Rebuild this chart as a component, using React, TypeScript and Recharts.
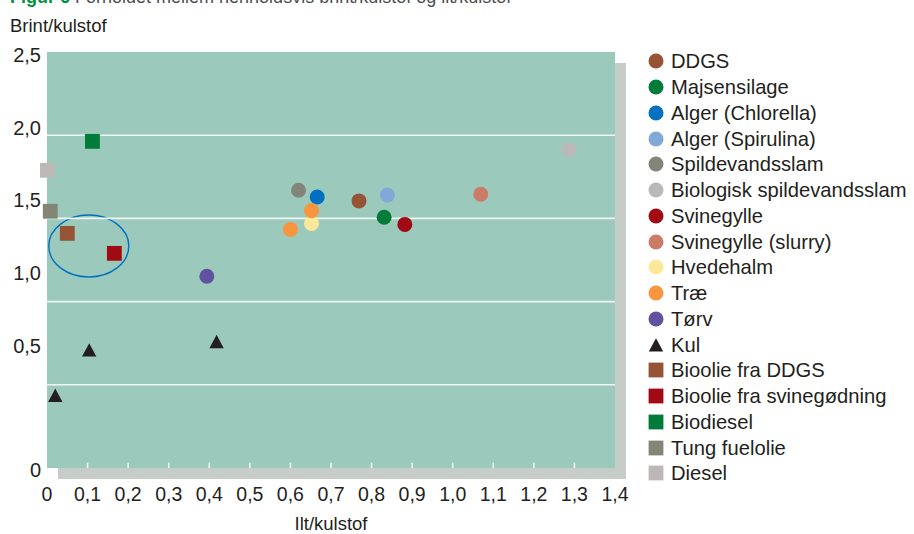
import React from 'react';
import {
  ScatterChart,
  Scatter,
  XAxis,
  YAxis,
  CartesianGrid,
  ReferenceLine,
  ReferenceArea,
  Customized,
} from 'recharts';

// ---------- data ----------
const xTicks = [0, 0.1, 0.2, 0.3, 0.4, 0.5, 0.6, 0.7, 0.8, 0.9, 1.0, 1.1, 1.2, 1.3, 1.4];
const yTicks = [0, 0.5, 1.0, 1.5, 2.0, 2.5];

const ddgs = [{ x: 0.769, y: 1.605 }];
const majsensilage = [{ x: 0.831, y: 1.507 }];
const algerChlorella = [{ x: 0.666, y: 1.629 }];
const algerSpirulina = [{ x: 0.839, y: 1.641 }];
const spildevandsslam = [{ x: 0.62, y: 1.669 }];
const biologiskSlam = [{ x: 1.286, y: 1.911 }];
const svinegylle = [{ x: 0.882, y: 1.464 }];
const svinegylleSlurry = [{ x: 1.069, y: 1.645 }];
const hvedehalm = [{ x: 0.652, y: 1.47 }];
const trae = [
  { x: 0.652, y: 1.547 },
  { x: 0.6, y: 1.434 },
];
const toerv = [{ x: 0.394, y: 1.152 }];
const kul = [
  { x: 0.104, y: 0.709 },
  { x: 0.418, y: 0.76 },
  { x: 0.0205, y: 0.437 },
];
const bioolieDdgs = [{ x: 0.05, y: 1.41 }];
const bioolieSvin = [{ x: 0.166, y: 1.29 }];
const biodiesel = [{ x: 0.112, y: 1.963 }];
const tungFuelolie = [{ x: 0.008, y: 1.543 }];
const diesel = [{ x: 0.001, y: 1.789 }];

const seriesNames = [
  'DDGS',
  'Majsensilage',
  'Alger (Chlorella)',
  'Alger (Spirulina)',
  'Spildevandsslam',
  'Biologisk spildevandsslam',
  'Svinegylle',
  'Svinegylle (slurry)',
  'Hvedehalm',
  'Træ',
  'Tørv',
  'Kul',
  'Bioolie fra DDGS',
  'Bioolie fra svinegødning',
  'Biodiesel',
  'Tung fuelolie',
  'Diesel',
];
const seriesData = [
  ddgs,
  majsensilage,
  algerChlorella,
  algerSpirulina,
  spildevandsslam,
  biologiskSlam,
  svinegylle,
  svinegylleSlurry,
  hvedehalm,
  trae,
  toerv,
  kul,
  bioolieDdgs,
  bioolieSvin,
  biodiesel,
  tungFuelolie,
  diesel,
];
const seriesColors = [
  '#965336',
  '#007b38',
  '#0070c0',
  '#80a8d9',
  '#84857a',
  '#bbb8b8',
  '#a10a12',
  '#cc7b66',
  '#fde89a',
  '#f7963f',
  '#6250a0',
  '#231f20',
  '#965336',
  '#a10a12',
  '#007b38',
  '#848575',
  '#bcb8b8',
];
const seriesShapes = [
  'circle', 'circle', 'circle', 'circle', 'circle', 'circle', 'circle', 'circle',
  'circle', 'circle', 'circle', 'triangle', 'square', 'square', 'square', 'square', 'square',
];

// ellipse highlighting the bio-oils (data-space bounds)
const ellipseBox = { x1: 0.0044, x2: 0.2016, y1: 1.148, y2: 1.52 };

// ---------- styling ----------
const FONT = '"Liberation Sans", Arial, Helvetica, sans-serif';
const TEXT = '#231f20';
const TEAL = '#9bcabd';
const SHADOW = '#c6ccc8';

const fmt = (v: number) => (v === 0 ? '0' : v.toFixed(1).replace('.', ','));

const Marker = ({ kind, color, cx, cy }: any) => {
  if (kind === 'circle') return <circle cx={cx} cy={cy} r={7.5} fill={color} />;
  if (kind === 'square')
    return <rect x={cx - 7.4} y={cy - 7.4} width={14.8} height={14.8} fill={color} />;
  return (
    <polygon
      points={`${cx},${cy - 6.8} ${cx + 7.2},${cy + 6.6} ${cx - 7.2},${cy + 6.6}`}
      fill={color}
    />
  );
};

const makeShape = (kind: string, color: string) => (props: any) => {
  const { cx, cy } = props;
  if (cx == null || cy == null) return <g />;
  return <Marker kind={kind} color={color} cx={cx} cy={cy} />;
};

const YTick = (props: any) => {
  const { x, y, payload } = props;
  const v = payload.value as number;
  const dy = v === 0 ? 2 : 3 - (2.5 - v) * 21;
  return (
    <text
      x={x}
      y={y + dy}
      textAnchor="end"
      dominantBaseline="central"
      fontSize={20}
      fontFamily={FONT}
      fill={TEXT}
    >
      {fmt(v)}
    </text>
  );
};

const XTick = (props: any) => {
  const { x, y, payload } = props;
  return (
    <text
      x={x}
      y={y}
      textAnchor="middle"
      dominantBaseline="central"
      fontSize={19.5}
      fontFamily={FONT}
      fill={TEXT}
    >
      {fmt(payload.value)}
    </text>
  );
};

const ShadowShape = (props: any) => {
  const { x, y, width, height } = props;
  const o = 11;
  return (
    <g>
      <rect x={x + width} y={y + o} width={o} height={height} fill={SHADOW} />
      <rect x={x + o} y={y + height} width={width} height={o} fill={SHADOW} />
    </g>
  );
};

const EllipseShape = (props: any) => {
  const { x, y, width, height } = props;
  return (
    <ellipse
      cx={x + width / 2}
      cy={y + height / 2}
      rx={width / 2}
      ry={height / 2}
      fill="none"
      stroke="#0070c0"
      strokeWidth={1.4}
    />
  );
};

const Titles = () => (
  <g fontFamily={FONT}>
    <text x={10} y={3} fontSize={18}>
      <tspan fill="#00913f" fontWeight="bold">Figur 6</tspan>
      <tspan fill="#4d4d4f"> Forholdet mellem henholdsvis brint/kulstof og ilt/kulstof</tspan>
    </text>
    <text x={10} y={31.5} fontSize={18.5} fill={TEXT}>
      Brint/kulstof
    </text>
  </g>
);

const LegendBlock = () => (
  <div
    style={{
      position: 'absolute',
      left: 647,
      top: 48.4,
      width: 267,
      fontFamily: FONT,
      fontSize: 20.2,
      color: TEXT,
    }}
  >
    {seriesNames.map((name, i) => (
      <div
        key={name}
        style={{ display: 'flex', alignItems: 'center', height: 25.75, whiteSpace: 'nowrap' }}
      >
        <svg width={18} height={18} style={{ flex: 'none' }}>
          <Marker kind={seriesShapes[i]} color={seriesColors[i]} cx={9} cy={9} />
        </svg>
        <span style={{ marginLeft: 6, lineHeight: '20px' }}>{name}</span>
      </div>
    ))}
  </div>
);

export default function App() {
  const gridValues = yTicks.filter((v) => v > 0 && v < 2.5);
  const tickMarks = xTicks.filter((v) => v > 0 && v < 1.4);
  return (
    <div style={{ position: 'absolute', left: 0, top: 0, width: 914, height: 534, background: '#fff' }}>
      <ScatterChart
        width={914}
        height={534}
        margin={{ top: 52, right: 299, bottom: 0, left: 0 }}
      >
        <CartesianGrid horizontal={false} vertical={false} fill={TEAL} stroke="none" />
        <XAxis
          type="number"
          dataKey="x"
          domain={[0, 1.4]}
          ticks={xTicks}
          interval={0}
          axisLine={false}
          tickLine={false}
          tickSize={0}
          tickMargin={26}
          height={66}
          tick={<XTick />}
          label={{
            value: 'Ilt/kulstof',
            position: 'insideBottom',
            offset: 4,
            fontSize: 18.5,
            fontFamily: FONT,
            fill: TEXT,
          }}
        />
        <YAxis
          type="number"
          dataKey="y"
          domain={[0, 2.5]}
          ticks={yTicks}
          interval={0}
          axisLine={false}
          tickLine={false}
          tickSize={0}
          tickMargin={6}
          width={47}
          tick={<YTick />}
        />
        <ReferenceArea x1={0} x2={1.4} y1={0} y2={2.5} shape={<ShadowShape />} ifOverflow="visible" />
        {gridValues.map((v) => (
          <ReferenceLine key={'g' + v} y={v} stroke="#eef5f2" strokeWidth={1.6} />
        ))}
        {tickMarks.map((v) => (
          <ReferenceLine
            key={'t' + v}
            segment={[
              { x: v, y: 0 },
              { x: v, y: 0.032 },
            ]}
            stroke="#f4f8f6"
            strokeWidth={1.5}
          />
        ))}
        <ReferenceArea
          x1={ellipseBox.x1}
          x2={ellipseBox.x2}
          y1={ellipseBox.y1}
          y2={ellipseBox.y2}
          shape={<EllipseShape />}
          ifOverflow="visible"
        />
        {seriesData.map((d, i) => (
          <Scatter
            key={seriesNames[i]}
            name={seriesNames[i]}
            data={d}
            fill={seriesColors[i]}
            shape={makeShape(seriesShapes[i], seriesColors[i])}
            isAnimationActive={false}
          />
        ))}
        <Customized component={<Titles />} />
      </ScatterChart>
      <LegendBlock />
    </div>
  );
}
